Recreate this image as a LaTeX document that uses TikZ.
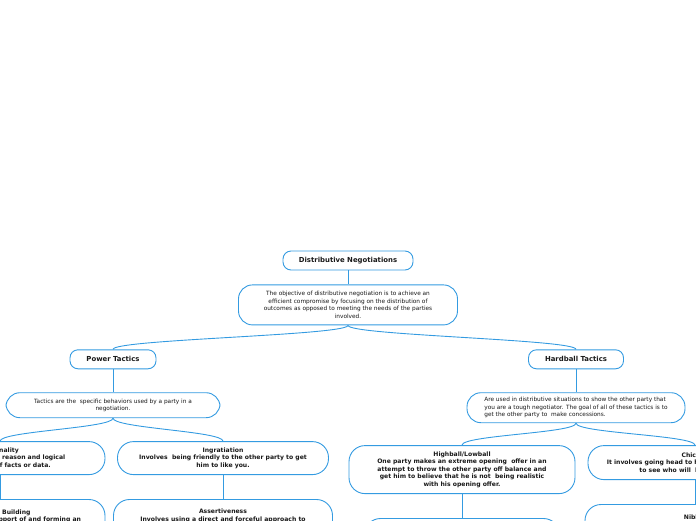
\documentclass[tikz,border=0pt]{standalone}
\usepackage{fontspec}
\setmainfont{DejaVu Sans}
\usepackage{xcolor}
\usetikzlibrary{positioning}
\definecolor{mapblue}{RGB}{52,155,225}
\definecolor{maptext}{RGB}{25,25,25}

\begin{document}
\begin{tikzpicture}[
    x=1pt, y=-1pt,
    node distance=24pt,
    every node/.style={
        draw=mapblue,
        line width=0.9pt,
        fill=white,
        text=maptext,
        align=center,
        inner sep=2pt
    },
    topic/.style={rounded corners=8pt, minimum height=19pt, font=\fontsize{6.9}{8}\selectfont\bfseries},
    note/.style={rounded corners=14pt, font=\fontsize{5.8}{7.5}\selectfont},
    tactic/.style={rounded corners=16pt, font=\fontsize{6.1}{7.6}\selectfont\bfseries},
    link/.style={draw=mapblue, line width=0.9pt}
]

\useasboundingbox (0,0) rectangle (696,520);
\clip (0,0) rectangle (696,520);

%  Root and its note
\node[topic, minimum width=130pt] (root) at (348,260.5) {Distributive Negotiations};
\node[note, minimum width=219pt, minimum height=40pt, below=14pt of root] (objective)
    {The objective of distributive negotiation is to achieve an\\
     efficient compromise by focusing on the distribution of\\
     outcomes as opposed to meeting the needs of the parties\\
     involved.};

%  Two main branches
\node[topic, minimum width=86pt, below=24pt of objective, xshift=-235pt] (power) {Power Tactics};
\node[topic, minimum width=95pt, below=24pt of objective, xshift=228pt] (hardball) {Hardball Tactics};

\node[note, minimum width=214pt, minimum height=25pt, below=23pt of power] (powernote)
    {Tactics are the\ \ specific behaviors used by a party in a\\
     negotiation.};
\node[note, align=left, minimum width=218pt, minimum height=30pt, below=23pt of hardball] (hardnote)
    {Are used in distributive situations to show the other party that\\
     you are a tough negotiator. The goal of all of these tactics is to\\
     get the other party to\ \ make concessions.};

%  Power tactics
\node[tactic, minimum width=210pt, minimum height=33pt, below=23pt of powernote, xshift=-113pt] (rationality)
    {Rationality\\
     Involves the use of reason and logical\\
     presentation of facts or data.};
\node[tactic, minimum width=211pt, minimum height=33pt, below=23pt of powernote, xshift=110pt] (ingratiation)
    {Ingratiation\\
     Involves\ \ being friendly to the other party to get\\
     him to like you.};
\node[tactic, minimum width=210pt, minimum height=40pt, below=24pt of rationality] (coalition)
    {Coalition Building\\
     Involves getting the support of and forming an\\
     alliance with others.};
\node[tactic, minimum width=219pt, minimum height=40pt, below=24pt of ingratiation] (assertiveness)
    {Assertiveness\\
     Involves using a direct and forceful approach to\\
     get what you want.};

%  Hardball tactics
\node[tactic, minimum width=226pt, minimum height=48pt, below=22pt of hardnote, xshift=-114pt] (highball)
    {Highball/Lowball\\
     One party makes an extreme opening\ \ offer in an\\
     attempt to throw the other party off balance and\\
     get him to believe that he is not\ \ being realistic\\
     with his opening offer.};
\node[tactic, minimum width=214pt, minimum height=34pt, below=22pt of hardnote, xshift=119pt] (chicken)
    {Chicken\\
     It involves going head to head with the other party\\
     to see who will\ \ back down first.};
\node[tactic, minimum width=220pt, minimum height=40pt, below=24pt of chicken] (nibble)
    {Nibble\\
     Requires asking for a proportionally small concession\\
     after the deal is almost done.};
\node[tactic, minimum width=195pt, minimum height=40pt, below=24pt of highball] (bogey) {};

%  Connectors
\draw[link] (root) -- (objective);
\foreach \child in {power, hardball}
    \draw[link] (objective.south) .. controls +(0,10) and +(0,-10) .. (\child.north);
\draw[link] (power) -- (powernote);
\draw[link] (hardball) -- (hardnote);
\foreach \child in {rationality, ingratiation}
    \draw[link] (powernote.south) .. controls +(0,10) and +(0,-10) .. (\child.north);
\foreach \child in {highball, chicken}
    \draw[link] (hardnote.south) .. controls +(0,10) and +(0,-10) .. (\child.north);
\draw[link] (rationality) -- (coalition);
\draw[link] (ingratiation) -- (assertiveness);
\draw[link] (highball) -- (bogey);
\draw[link] (chicken) -- (nibble);

\end{tikzpicture}
\end{document}
